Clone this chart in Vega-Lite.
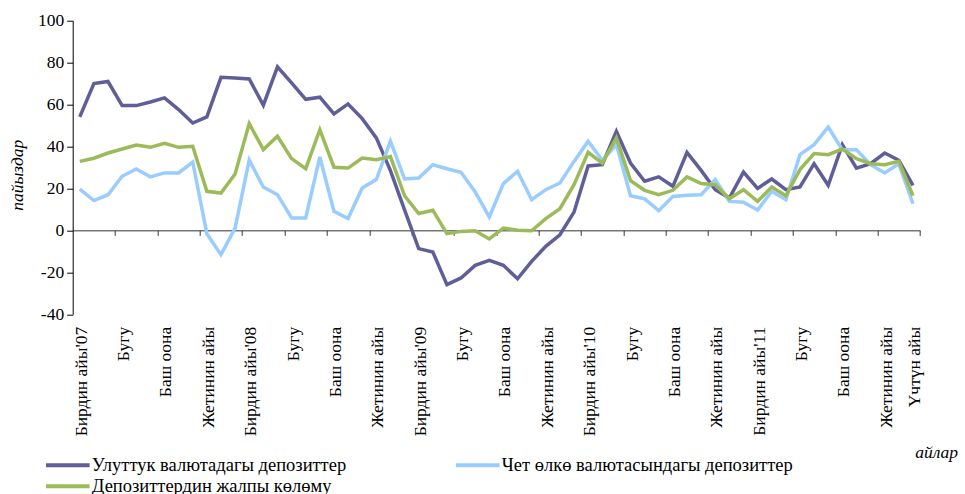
{
  "$schema": "https://vega.github.io/schema/vega-lite/v6.json",
  "width": 847.3,
  "height": 293.5,
  "autosize": {"type": "none"},
  "padding": {"left": 72.7, "top": 20.7, "right": 45, "bottom": 179.8},
  "background": "white",
  "config": {"view": {"stroke": null}, "font": "Liberation Serif, Times New Roman, serif"},
  "data": {"values": [
    {"m":0,"Улуттук валютадагы депозиттер":54.1,"Чет өлкө  валютасындагы депозиттер":19.7,"Депозиттердин жалпы көлөму":32.9},
    {"m":1,"Улуттук валютадагы депозиттер":70.0,"Чет өлкө  валютасындагы депозиттер":14.2,"Депозиттердин жалпы көлөму":34.4},
    {"m":2,"Улуттук валютадагы депозиттер":71.0,"Чет өлкө  валютасындагы депозиттер":17.0,"Депозиттердин жалпы көлөму":36.9},
    {"m":3,"Улуттук валютадагы депозиттер":59.5,"Чет өлкө  валютасындагы депозиттер":25.8,"Депозиттердин жалпы көлөму":38.8},
    {"m":4,"Улуттук валютадагы депозиттер":59.5,"Чет өлкө  валютасындагы депозиттер":29.3,"Депозиттердин жалпы көлөму":40.7},
    {"m":5,"Улуттук валютадагы депозиттер":61.2,"Чет өлкө  валютасындагы депозиттер":25.5,"Депозиттердин жалпы көлөму":39.6},
    {"m":6,"Улуттук валютадагы депозиттер":63.2,"Чет өлкө  валютасындагы депозиттер":27.4,"Депозиттердин жалпы көлөму":41.5},
    {"m":7,"Улуттук валютадагы депозиттер":57.6,"Чет өлкө  валютасындагы депозиттер":27.4,"Депозиттердин жалпы көлөму":39.6},
    {"m":8,"Улуттук валютадагы депозиттер":51.2,"Чет өлкө  валютасындагы депозиттер":32.6,"Депозиттердин жалпы көлөму":40.1},
    {"m":9,"Улуттук валютадагы депозиттер":54.1,"Чет өлкө  валютасындагы депозиттер":-1.6,"Депозиттердин жалпы көлөму":18.6},
    {"m":10,"Улуттук валютадагы депозиттер":73.0,"Чет өлкө  валютасындагы депозиттер":-11.6,"Депозиттердин жалпы көлөму":17.8},
    {"m":11,"Улуттук валютадагы депозиттер":72.7,"Чет өлкө  валютасындагы депозиттер":1.1,"Депозиттердин жалпы көлөму":26.9},
    {"m":12,"Улуттук валютадагы депозиттер":72.2,"Чет өлкө  валютасындагы депозиттер":33.5,"Депозиттердин жалпы көлөму":50.9},
    {"m":13,"Улуттук валютадагы депозиттер":59.7,"Чет өлкө  валютасындагы депозиттер":20.7,"Депозиттердин жалпы көлөму":38.5},
    {"m":14,"Улуттук валютадагы депозиттер":78.0,"Чет өлкө  валютасындагы депозиттер":17.0,"Депозиттердин жалпы көлөму":44.9},
    {"m":15,"Улуттук валютадагы депозиттер":70.3,"Чет өлкө  валютасындагы депозиттер":5.9,"Депозиттердин жалпы көлөму":34.2},
    {"m":16,"Улуттук валютадагы депозиттер":62.5,"Чет өлкө  валютасындагы депозиттер":5.9,"Депозиттердин жалпы көлөму":29.4},
    {"m":17,"Улуттук валютадагы депозиттер":63.5,"Чет өлкө  валютасындагы депозиттер":35.0,"Депозиттердин жалпы көлөму":48.0},
    {"m":18,"Улуттук валютадагы депозиттер":55.5,"Чет өлкө  валютасындагы депозиттер":9.1,"Депозиттердин жалпы көлөму":30.1},
    {"m":19,"Улуттук валютадагы депозиттер":60.3,"Чет өлкө  валютасындагы депозиттер":5.6,"Депозиттердин жалпы көлөму":29.7},
    {"m":20,"Улуттук валютадагы депозиттер":53.3,"Чет өлкө  валютасындагы депозиттер":20.2,"Депозиттердин жалпы көлөму":34.5},
    {"m":21,"Улуттук валютадагы депозиттер":44.1,"Чет өлкө  валютасындагы депозиттер":24.2,"Депозиттердин жалпы көлөму":33.7},
    {"m":22,"Улуттук валютадагы депозиттер":28.5,"Чет өлкө  валютасындагы депозиттер":42.5,"Депозиттердин жалпы көлөму":35.2},
    {"m":23,"Улуттук валютадагы депозиттер":9.8,"Чет өлкө  валютасындагы депозиттер":24.5,"Депозиттердин жалпы көлөму":16.5},
    {"m":24,"Улуттук валютадагы депозиттер":-8.7,"Чет өлкө  валютасындагы депозиттер":25.0,"Депозиттердин жалпы көлөму":8.0},
    {"m":25,"Улуттук валютадагы депозиттер":-10.3,"Чет өлкө  валютасындагы депозиттер":31.3,"Депозиттердин жалпы көлөму":9.6},
    {"m":26,"Улуттук валютадагы депозиттер":-25.9,"Чет өлкө  валютасындагы депозиттер":29.4,"Депозиттердин жалпы көлөму":-1.6},
    {"m":27,"Улуттук валютадагы депозиттер":-22.7,"Чет өлкө  валютасындагы депозиттер":27.7,"Депозиттердин жалпы көлөму":-0.5},
    {"m":28,"Улуттук валютадагы депозиттер":-16.7,"Чет өлкө  валютасындагы депозиттер":18.3,"Депозиттердин жалпы көлөму":-0.2},
    {"m":29,"Улуттук валютадагы депозиттер":-14.3,"Чет өлкө  валютасындагы депозиттер":6.4,"Депозиттердин жалпы көлөму":-4.1},
    {"m":30,"Улуттук валютадагы депозиттер":-16.7,"Чет өлкө  валютасындагы депозиттер":22.3,"Депозиттердин жалпы көлөму":1.1},
    {"m":31,"Улуттук валютадагы депозиттер":-23.1,"Чет өлкө  валютасындагы депозиттер":28.2,"Депозиттердин жалпы көлөму":0.0},
    {"m":32,"Улуттук валютадагы депозиттер":-14.8,"Чет өлкө  валютасындагы депозиттер":14.6,"Депозиттердин жалпы көлөму":-0.2},
    {"m":33,"Улуттук валютадагы депозиттер":-7.6,"Чет өлкө  валютасындагы депозиттер":19.4,"Депозиттердин жалпы көлөму":5.6},
    {"m":34,"Улуттук валютадагы депозиттер":-2.1,"Чет өлкө  валютасындагы депозиттер":22.6,"Депозиттердин жалпы көлөму":10.3},
    {"m":35,"Улуттук валютадагы депозиттер":8.7,"Чет өлкө  валютасындагы депозиттер":32.9,"Депозиттердин жалпы көлөму":21.8},
    {"m":36,"Улуттук валютадагы депозиттер":30.7,"Чет өлкө  валютасындагы депозиттер":42.5,"Депозиттердин жалпы көлөму":37.2},
    {"m":37,"Улуттук валютадагы депозиттер":31.3,"Чет өлкө  валютасындагы депозиттер":33.4,"Депозиттердин жалпы көлөму":32.1},
    {"m":38,"Улуттук валютадагы депозиттер":47.2,"Чет өлкө  валютасындагы депозиттер":40.9,"Депозиттердин жалпы көлөму":44.1},
    {"m":39,"Улуттук валютадагы депозиттер":32.1,"Чет өлкө  валютасындагы депозиттер":16.5,"Депозиттердин жалпы көлөму":23.7},
    {"m":40,"Улуттук валютадагы депозиттер":23.4,"Чет өлкө  валютасындагы депозиттер":15.0,"Депозиттердин жалпы көлөму":19.1},
    {"m":41,"Улуттук валютадагы депозиттер":25.5,"Чет өлкө  валютасындагы депозиттер":9.4,"Депозиттердин жалпы көлөму":17.0},
    {"m":42,"Улуттук валютадагы депозиттер":21.0,"Чет өлкө  валютасындагы депозиттер":16.2,"Депозиттердин жалпы көлөму":19.1},
    {"m":43,"Улуттук валютадагы депозиттер":37.2,"Чет өлкө  валютасындагы депозиттер":16.7,"Депозиттердин жалпы көлөму":25.5},
    {"m":44,"Улуттук валютадагы депозиттер":28.6,"Чет өлкө  валютасындагы депозиттер":17.0,"Депозиттердин жалпы көлөму":22.3},
    {"m":45,"Улуттук валютадагы депозиттер":19.4,"Чет өлкө  валютасындагы депозиттер":24.2,"Депозиттердин жалпы көлөму":21.8},
    {"m":46,"Улуттук валютадагы депозиттер":15.4,"Чет өлкө  валютасындагы депозиттер":13.8,"Депозиттердин жалпы көлөму":15.1},
    {"m":47,"Улуттук валютадагы депозиттер":27.8,"Чет өлкө  валютасындагы депозиттер":13.4,"Депозиттердин жалпы көлөму":19.4},
    {"m":48,"Улуттук валютадагы депозиттер":20.0,"Чет өлкө  валютасындагы депозиттер":9.7,"Депозиттердин жалпы көлөму":13.8},
    {"m":49,"Улуттук валютадагы депозиттер":24.5,"Чет өлкө  валютасындагы депозиттер":18.6,"Депозиттердин жалпы көлөму":20.7},
    {"m":50,"Улуттук валютадагы депозиттер":19.4,"Чет өлкө  валютасындагы депозиттер":14.6,"Депозиттердин жалпы көлөму":16.5},
    {"m":51,"Улуттук валютадагы депозиттер":20.7,"Чет өлкө  валютасындагы депозиттер":36.1,"Депозиттердин жалпы көлөму":29.0},
    {"m":52,"Улуттук валютадагы депозиттер":31.8,"Чет өлкө  валютасындагы депозиттер":40.9,"Депозиттердин жалпы көлөму":36.6},
    {"m":53,"Улуттук валютадагы депозиттер":21.5,"Чет өлкө  валютасындагы депозиттер":49.3,"Депозиттердин жалпы көлөму":36.1},
    {"m":54,"Улуттук валютадагы депозиттер":40.9,"Чет өлкө  валютасындагы депозиттер":38.5,"Депозиттердин жалпы көлөму":38.8},
    {"m":55,"Улуттук валютадагы депозиттер":29.7,"Чет өлкө  валютасындагы депозиттер":38.5,"Депозиттердин жалпы көлөму":34.2},
    {"m":56,"Улуттук валютадагы депозиттер":31.8,"Чет өлкө  валютасындагы депозиттер":31.3,"Депозиттердин жалпы көлөму":31.8},
    {"m":57,"Улуттук валютадагы депозиттер":36.9,"Чет өлкө  валютасындагы депозиттер":27.4,"Депозиттердин жалпы көлөму":31.3},
    {"m":58,"Улуттук валютадагы депозиттер":33.4,"Чет өлкө  валютасындагы депозиттер":31.8,"Депозиттердин жалпы көлөму":32.9},
    {"m":59,"Улуттук валютадагы депозиттер":21.5,"Чет өлкө  валютасындагы депозиттер":12.7,"Депозиттердин жалпы көлөму":16.5}
  ]},
  "transform": [
    {"fold": ["Улуттук валютадагы депозиттер", "Чет өлкө  валютасындагы депозиттер", "Депозиттердин жалпы көлөму"], "as": ["series", "value"]}
  ],
  "mark": {"type": "line", "strokeWidth": 3.5, "strokeJoin": "miter", "clip": false},
  "encoding": {
    "x": {
      "field": "m", "type": "quantitative",
      "scale": {"domain": [-0.5, 59.5], "nice": false, "zero": false},
      "axis": {
        "orient": "bottom",
        "offset": -83.86,
        "values": [0,2.5,3,5.5,6,8.5,9,11.5,12,14.5,15,17.5,18,20.5,21,23.5,24,26.5,27,29.5,30,32.5,33,35.5,36,38.5,39,41.5,42,44.5,45,47.5,48,50.5,51,53.5,54,56.5,57,59,59.5],
        "labelExpr": "datum.value % 1 != 0 ? '' : (datum.value == 59 ? 'Үчтүн айы' : [\"Бирдин айы'07\",'Бугу','Баш оона','Жетинин айы',\"Бирдин айы'08\",'Бугу','Баш оона','Жетинин айы',\"Бирдин айы'09\",'Бугу','Баш оона','Жетинин айы',\"Бирдин айы'10\",'Бугу','Баш оона','Жетинин айы',\"Бирдин айы'11\",'Бугу','Баш оона','Жетинин айы'][datum.value / 3])",
        "tickOpacity": {"condition": {"test": "datum.value % 1 == 0", "value": 0}, "value": 1},
        "tickSize": 5,
        "tickColor": "#333333",
        "domainColor": "#333333",
        "labelPadding": 91,
        "labelOffset": 1.5,
        "labelAngle": -90,
        "labelAlign": "right",
        "labelBaseline": "middle",
        "labelFont": "Liberation Serif, Times New Roman, serif",
        "labelFontSize": 17.5,
        "labelColor": "#000000",
        "labelOverlap": false,
        "labelBound": false,
        "labelFlush": false,
        "grid": false,
        "title": "айлар",
        "titleFont": "Liberation Serif, Times New Roman, serif",
        "titleFontSize": 17.5,
        "titleFontStyle": "italic",
        "titleFontWeight": "normal",
        "titleColor": "#000000",
        "titleAngle": 0,
        "titleAlign": "left",
        "titleBaseline": "alphabetic",
        "titleX": 842,
        "titleY": 227.5
      }
    },
    "y": {
      "field": "value", "type": "quantitative",
      "scale": {"domain": [-40, 100], "nice": false, "zero": false},
      "axis": {
        "values": [-40,-20,0,20,40,60,80,100],
        "labelExpr": "'' + datum.value",
        "tickSize": 6,
        "tickColor": "#000000",
        "domainColor": "#000000",
        "labelPadding": 3,
        "labelFont": "Liberation Serif, Times New Roman, serif",
        "labelFontSize": 17.5,
        "labelColor": "#000000",
        "grid": false,
        "title": "пайыздар",
        "titleFont": "Liberation Serif, Times New Roman, serif",
        "titleFontSize": 17.5,
        "titleFontStyle": "italic",
        "titleFontWeight": "normal",
        "titleColor": "#000000",
        "titleAngle": -90,
        "titleBaseline": "middle",
        "titleAlign": "center",
        "titleX": -55,
        "titleY": 154
      }
    },
    "color": {
      "field": "series", "type": "nominal",
      "scale": {
        "domain": ["Улуттук валютадагы депозиттер", "Чет өлкө  валютасындагы депозиттер", "Депозиттердин жалпы көлөму"],
        "range": ["#5F5E99", "#99CCFF", "#9BBB59"]
      },
      "legend": {
        "title": null,
        "orient": "none",
        "legendX": -28.9,
        "legendY": 435,
        "direction": "horizontal",
        "columns": 2,
        "columnPadding": 107,
        "rowPadding": 2,
        "clipHeight": 19,
        "symbolType": "stroke",
        "symbolSize": 1900,
        "symbolStrokeWidth": 4,
        "labelOffset": 0,
        "labelFont": "Liberation Serif, Times New Roman, serif",
        "labelFontSize": 18.5,
        "labelColor": "#000000",
        "labelLimit": 400
      }
    }
  }
}
